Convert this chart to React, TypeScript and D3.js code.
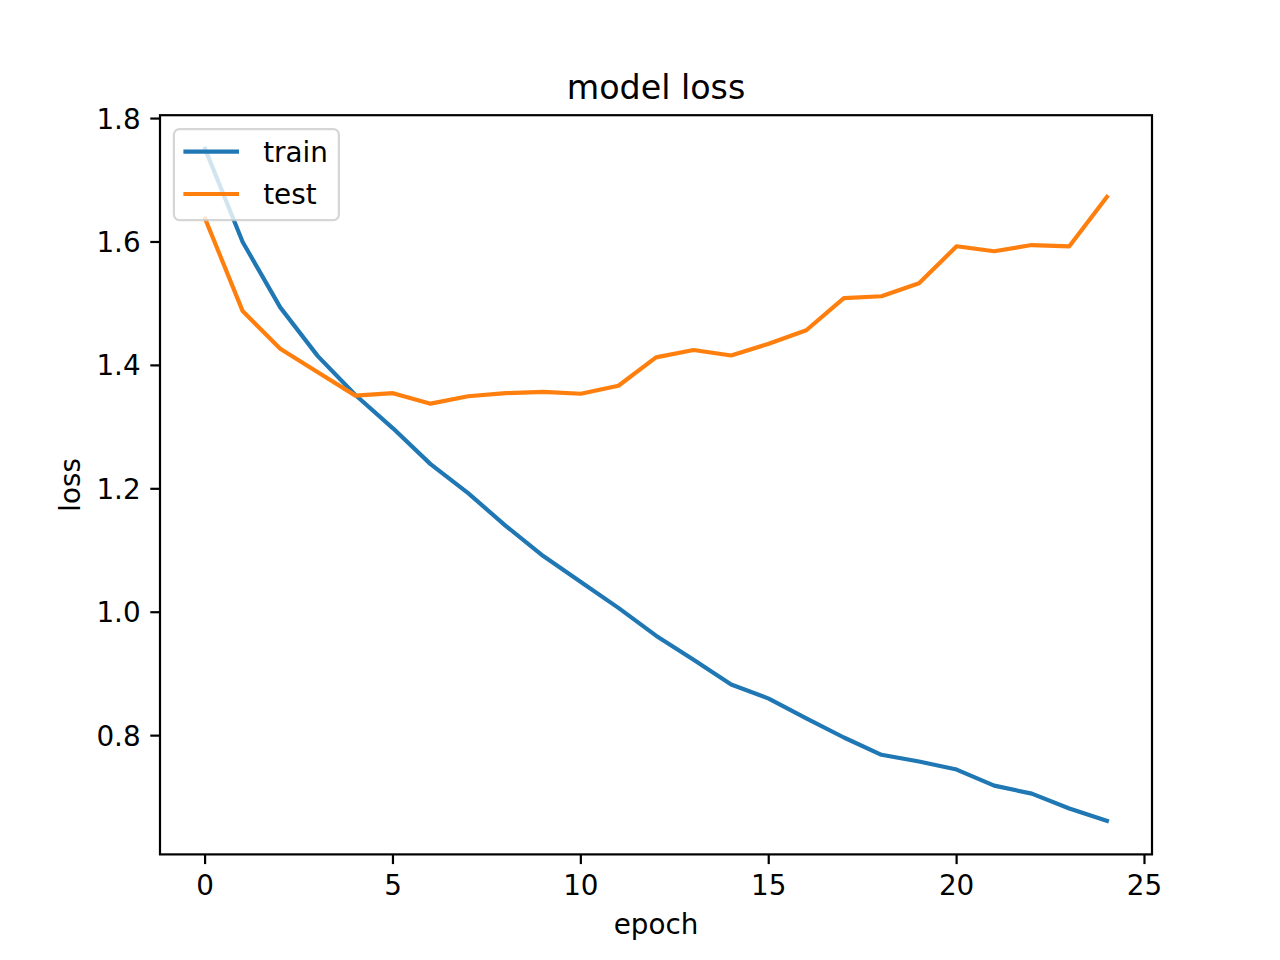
import React from "react";
import * as d3 from "d3";

const epochs = d3.range(25);
const trainLoss = [1.751, 1.600, 1.494, 1.415, 1.352, 1.298, 1.240, 1.193, 1.140, 1.091, 1.049, 1.007, 0.962, 0.923, 0.883, 0.860, 0.828, 0.797, 0.769, 0.758, 0.745, 0.719, 0.706, 0.682, 0.662];
const testLoss = [1.638, 1.488, 1.427, 1.389, 1.351, 1.355, 1.338, 1.350, 1.355, 1.357, 1.354, 1.367, 1.413, 1.425, 1.416, 1.435, 1.457, 1.509, 1.512, 1.533, 1.593, 1.585, 1.595, 1.593, 1.673];
const xTicks = [0, 5, 10, 15, 20, 25];
const yTicks = [0.8, 1.0, 1.2, 1.4, 1.6, 1.8];
const seriesNames = ["train", "test"];
const colors = ["#1f77b4", "#ff7f0e"];

export default function App() {
  const W = 1280, H = 960;
  const L = 160, R = 1152, T = 115.2, B = 854.4;
  const all = [...trainLoss, ...testLoss];
  const ymin = d3.min(all)!, ymax = d3.max(all)!;
  const ym = (ymax - ymin) * 0.05;
  const x = d3.scaleLinear().domain([-1.2, 25.2]).range([L, R]);
  const y = d3.scaleLinear().domain([ymin - ym, ymax + ym]).range([B, T]);
  const line = d3.line<number>().x((_, i) => x(epochs[i])).y((d) => y(d));
  const fs = 27.8;
  const font = "DejaVu Sans, sans-serif";
  const tickLen = 9.7;
  const series = [trainLoss, testLoss];
  const lgX = L + 13.9, lgY = T + 13.9, lgW = 165, lgH = 91;
  return (
    <svg width={W} height={H} style={{ position: "absolute", left: 0, top: 0, background: "#fff" }} fontFamily={font}>
      <rect x={0} y={0} width={W} height={H} fill="#fff" />
      <defs>
        <clipPath id="clip">
          <rect x={L} y={T} width={R - L} height={B - T} />
        </clipPath>
      </defs>
      <g clipPath="url(#clip)">
        {series.map((s, i) => (
          <path key={i} d={line(s)!} fill="none" stroke={colors[i]} strokeWidth={4.17} strokeLinejoin="round" strokeLinecap="square" />
        ))}
      </g>
      <rect x={L} y={T} width={R - L} height={B - T} fill="none" stroke="#000" strokeWidth={2.2} strokeLinecap="square" />
      {xTicks.map((t) => (
        <g key={t}>
          <line x1={x(t)} x2={x(t)} y1={B} y2={B + tickLen} stroke="#000" strokeWidth={2.2} />
          <text x={x(t)} y={B + tickLen + 9.7 + 21.5} textAnchor="middle" fontSize={fs} fill="#000">{t}</text>
        </g>
      ))}
      {yTicks.map((t) => (
        <g key={t}>
          <line x1={L - tickLen} x2={L} y1={y(t)} y2={y(t)} stroke="#000" strokeWidth={2.2} />
          <text x={L - tickLen - 9.7} y={y(t) + 10} textAnchor="end" fontSize={fs} fill="#000">{t.toFixed(1)}</text>
        </g>
      ))}
      <text x={(L + R) / 2} y={98.5} textAnchor="middle" fontSize={33.3} fill="#000">model loss</text>
      <text x={(L + R) / 2} y={934} textAnchor="middle" fontSize={fs} fill="#000">epoch</text>
      <text transform={`translate(80,${(T + B) / 2}) rotate(-90)`} textAnchor="middle" fontSize={fs} fill="#000">loss</text>
      <rect x={lgX} y={lgY} width={lgW} height={lgH} rx={5.5} ry={5.5} fill="#fff" fillOpacity={0.8} stroke="#ccc" strokeOpacity={0.8} strokeWidth={2.2} />
      {seriesNames.map((n, i) => {
        const cy = 151.7 + i * 42.3;
        return (
          <g key={n}>
            <line x1={lgX + 9.5} x2={lgX + 9.5 + 55.6} y1={cy} y2={cy} stroke={colors[i]} strokeWidth={4.17} />
            <text x={lgX + 9.5 + 55.6 + 24.2} y={cy + 10} fontSize={fs} fill="#000">{n}</text>
          </g>
        );
      })}
    </svg>
  );
}
